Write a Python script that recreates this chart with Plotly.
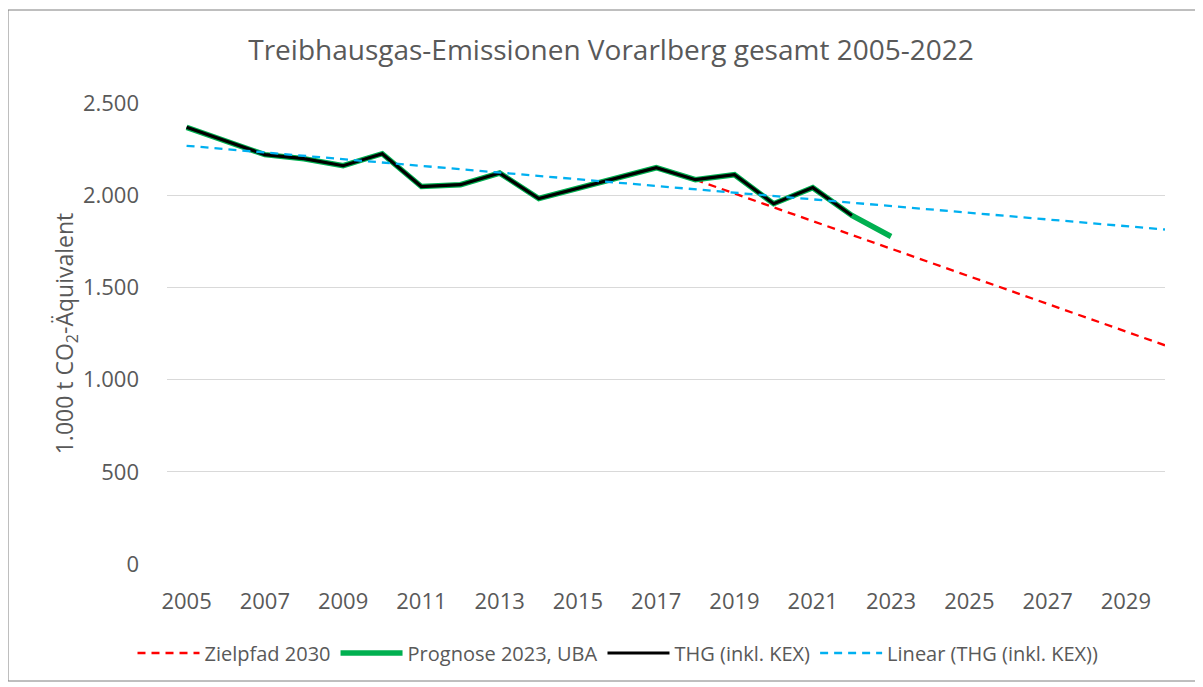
import plotly.graph_objects as go

# ---- data ----
years_thg = [2005, 2006, 2007, 2008, 2009, 2010, 2011, 2012, 2013, 2014,
             2015, 2016, 2017, 2018, 2019, 2020, 2021, 2022]
thg_values = [2368, 2296, 2220, 2198, 2160, 2225, 2047, 2057, 2120, 1982,
              2037, 2093, 2149, 2084, 2111, 1954, 2041, 1890]

years_prognose = years_thg + [2023]
prognose_values = thg_values + [1776]

years_ziel = [2018, 2030]
ziel_values = [2084, 1186]

years_linear = [2005, 2030]
linear_values = [2268, 1814]

x_tick_years = list(range(2005, 2030, 2))
y_tick_values = [0, 500, 1000, 1500, 2000, 2500]

FONT = "Open Sans"
TXT = "#595959"

# the page body has an 8px margin; work in reference pixels minus 8
OFF = 8
W, H = 1203 - OFF, 687 - OFF

fig = go.Figure()
fig.add_trace(go.Scatter(x=years_ziel, y=ziel_values, mode="lines",
                         name="Zielpfad 2030",
                         line=dict(color="#FF0000", width=2.3, dash="8px,6px")))
fig.add_trace(go.Scatter(x=years_prognose, y=prognose_values, mode="lines",
                         name="Prognose 2023, UBA",
                         line=dict(color="#00B050", width=5.5)))
fig.add_trace(go.Scatter(x=years_thg, y=thg_values, mode="lines",
                         name="THG (inkl. KEX)",
                         line=dict(color="#000000", width=3.2)))
fig.add_trace(go.Scatter(x=years_linear, y=linear_values, mode="lines",
                         name="Linear (THG (inkl. KEX))",
                         line=dict(color="#00B0F0", width=2.3, dash="8px,6px")))

left_px, right_px, top_px, bottom_px = 167 - OFF, 1165 - OFF, 103 - OFF, 564 - OFF
L, R, T, B = left_px, W - right_px, top_px, H - bottom_px
pw, ph = W - L - R, H - T - B

def px_x(px):
    return (px - OFF - L) / pw

def px_y(py):
    return (bottom_px - (py - OFF)) / ph

fig.update_layout(
    width=W, height=H,
    margin=dict(l=L, r=R, t=T, b=B),
    paper_bgcolor="white", plot_bgcolor="white",
    separators=",.",
    font=dict(family=FONT, color=TXT),
    title=dict(text="Treibhausgas-Emissionen Vorarlberg gesamt 2005-2022",
               x=px_x(611), xref="paper", xanchor="center",
               y=1 - (50 - OFF) / H, yref="container", yanchor="middle",
               font=dict(size=28, color=TXT, family=FONT)),
    xaxis=dict(range=[2004.5, 2030.0], tickvals=x_tick_years,
               showgrid=False, zeroline=False, showline=False,
               ticks="", ticklabelstandoff=22,
               tickfont=dict(size=22, color=TXT, family=FONT)),
    yaxis=dict(range=[0, 2500], tickvals=y_tick_values, tickformat=",.0f",
               showgrid=True, gridcolor="#D9D9D9", gridwidth=1.4,
               zeroline=False, showline=False, ticks="",
               ticklabelstandoff=27,
               tickfont=dict(size=22, color=TXT, family=FONT),
               title=dict(text="1.000 t CO<sub>2</sub>-Äquivalent",
                          font=dict(size=23, color=TXT, family=FONT),
                          standoff=2)),
    legend=dict(orientation="h", x=px_x(618), xanchor="center",
                y=px_y(653), yanchor="middle",
                font=dict(size=20, color=TXT, family=FONT),
                itemwidth=62, traceorder="normal",
                bgcolor="rgba(0,0,0,0)"),
    showlegend=True,
    shapes=[dict(type="rect", xref="paper", yref="paper",
                 x0=px_x(8), x1=px_x(1196), y0=px_y(681), y1=px_y(10),
                 line=dict(color="#7F7F7F", width=1), layer="below")],
)

fig.write_html("out.html")
